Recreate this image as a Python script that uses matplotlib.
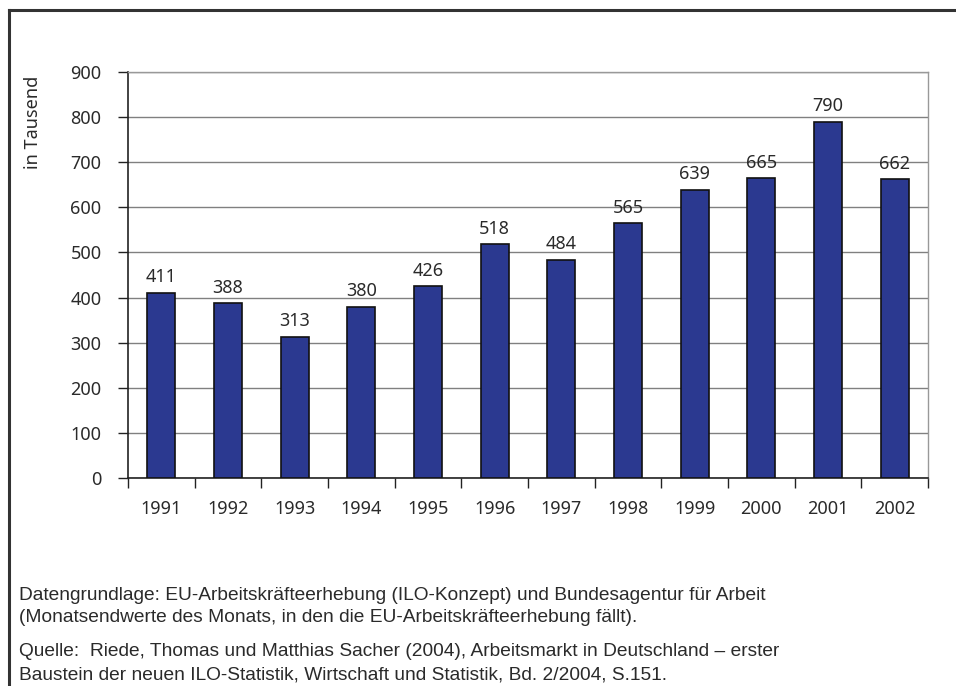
import numpy as np
import matplotlib.pyplot as plt
from matplotlib.lines import Line2D

# data
jahre = ['1991', '1992', '1993', '1994', '1995', '1996', '1997', '1998', '1999', '2000', '2001', '2002']
werte = [411, 388, 313, 380, 426, 518, 484, 565, 639, 665, 790, 662]
y_ticks = [0, 100, 200, 300, 400, 500, 600, 700, 800, 900]

fuss1 = ['Datengrundlage: EU-Arbeitskräfteerhebung (ILO-Konzept) und Bundesagentur für Arbeit',
         '(Monatsendwerte des Monats, in den die EU-Arbeitskräfteerhebung fällt).']
fuss2 = ['Quelle:  Riede, Thomas und Matthias Sacher (2004), Arbeitsmarkt in Deutschland – erster',
         'Baustein der neuen ILO-Statistik, Wirtschaft und Statistik, Bd. 2/2004, S.151.']

plt.rcParams['font.family'] = ['Noto Sans', 'DejaVu Sans']
fs = 13
txt_col = '#2a2a2a'

W, H = 956, 686
fig = plt.figure(figsize=(W / 100, H / 100), dpi=100)
ax = fig.add_axes([128 / W, 1 - 478 / H, 800 / W, 406 / H])

x = np.arange(len(jahre))
ax.bar(x, werte, width=0.42, color='#2B3990', edgecolor='#111111', linewidth=1.2, zorder=3)
for xi, v in zip(x, werte):
    ax.text(xi, v + 14, str(v), ha='center', va='bottom', fontsize=fs, color=txt_col, zorder=4)

ax.set_xlim(-0.5, len(jahre) - 0.5)
ax.set_ylim(0, 900)
ax.set_yticks(y_ticks)
ax.set_yticklabels([str(t) for t in y_ticks], fontsize=fs, color=txt_col)
ax.tick_params(axis='y', length=7, width=1, pad=12, color='#222222')
ax.set_xticks(x)
ax.set_xticklabels(jahre, fontsize=fs, color=txt_col)
ax.tick_params(axis='x', which='major', length=0, pad=16)
ax.set_xticks(np.arange(-0.5, len(jahre), 1), minor=True)
ax.tick_params(axis='x', which='minor', length=7, width=1, color='#222222')

ax.yaxis.grid(True, color='#808080', linewidth=1, zorder=0)
ax.set_axisbelow(True)
for s in ['left', 'bottom']:
    ax.spines[s].set_color('#222222')
    ax.spines[s].set_linewidth(1.2)
for s in ['right', 'top']:
    ax.spines[s].set_color('#999999')
    ax.spines[s].set_linewidth(1)

fig.text(33 / W, 1 - 76 / H, 'in Tausend', rotation=90, ha='center', va='top', fontsize=fs, color=txt_col)

# outer frame lines
fig.add_artist(Line2D([9 / W, 1], [1 - 10 / H, 1 - 10 / H], color='#333333', linewidth=2.2, transform=fig.transFigure))
fig.add_artist(Line2D([9 / W, 9 / W], [1 - 10 / H, 0], color='#333333', linewidth=2.2, transform=fig.transFigure))

for i, line in enumerate(fuss1):
    fig.text(19 / W, 1 - (595 + 23 * i) / H, line, ha='left', va='center', fontsize=13.8,
             color=txt_col, family=['Liberation Sans', 'DejaVu Sans'])
for i, line in enumerate(fuss2):
    fig.text(19 / W, 1 - (652 + 23 * i) / H, line, ha='left', va='center', fontsize=13.8,
             color=txt_col, family=['Liberation Sans', 'DejaVu Sans'])

fig.savefig('out.png', dpi=100)
